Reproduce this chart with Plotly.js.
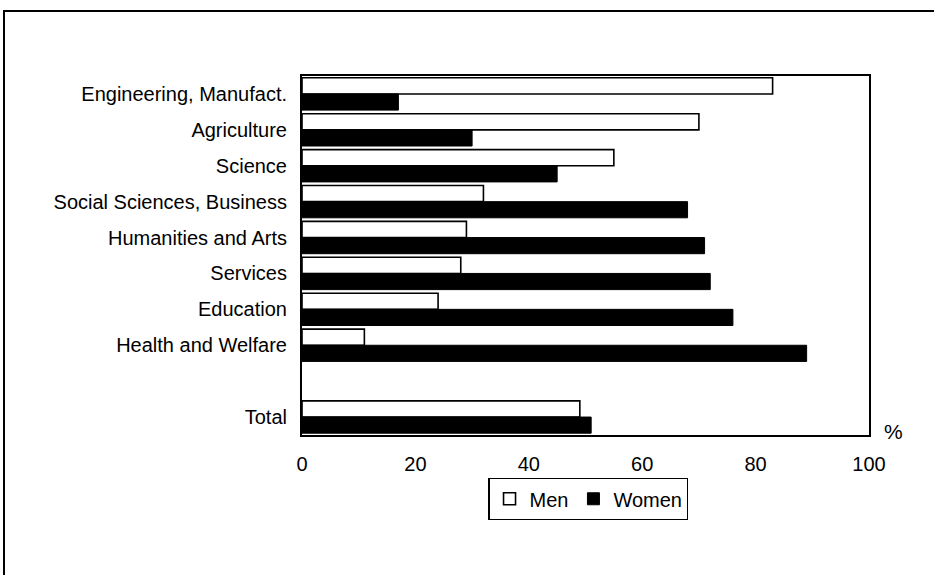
<!DOCTYPE html>
<html>
<head>
<meta charset="utf-8">
<script src="https://cdn.plot.ly/plotly-3.0.1.min.js"></script>
<style>
  html, body { margin: 0; padding: 0; background: #fff; }
  #wrap { position: relative; width: 934px; height: 575px; overflow: hidden; }
  #frame { position: absolute; left: 3px; top: 10px; width: 940px; height: 600px;
           border-left: 2px solid #000; border-top: 2px solid #000; box-sizing: border-box; pointer-events: none; }
  #chart { position: absolute; left: 0; top: 0; width: 934px; height: 575px; }
</style>
</head>
<body>
<div id="wrap">
  <div id="chart"></div>
  <div id="frame"></div>
</div>
<script>
const categories = [
  "Engineering, Manufact.",
  "Agriculture",
  "Science",
  "Social Sciences, Business",
  "Humanities and Arts",
  "Services",
  "Education",
  "Health and Welfare",
  " ",
  "Total"
];
const menValues   = [83, 70, 55, 32, 29, 28, 24, 11, null, 49];
const womenValues = [17, 30, 45, 68, 71, 72, 76, 89, null, 51];
const xTicks = [0, 20, 40, 60, 80, 100];

const fam = "Liberation Sans, Arial, sans-serif";
const famNarrow = "Liberation Sans Narrow, Arial Narrow, Liberation Sans, sans-serif";

const traces = [
  {
    type: "bar", orientation: "h", name: "Men",
    y: categories, x: menValues,
    marker: { color: "#ffffff", line: { color: "#000", width: 1.6 } },
    hoverinfo: "x+y"
  },
  {
    type: "bar", orientation: "h", name: "Women",
    y: categories, x: womenValues,
    marker: { color: "#000000", line: { color: "#000", width: 1 } },
    hoverinfo: "x+y"
  }
];

const layout = {
  width: 934, height: 575,
  margin: { l: 302, r: 65, t: 76, b: 140 },
  paper_bgcolor: "#fff", plot_bgcolor: "#fff",
  font: { family: fam, size: 20, color: "#000" },
  barmode: "group",
  bargap: 0.1, bargroupgap: 0,
  showlegend: true,
  legend: {
    orientation: "h", x: 0.505, xanchor: "center", y: -0.12, yanchor: "top",
    bordercolor: "#000", borderwidth: 1.2, bgcolor: "#fff",
    font: { family: fam, size: 20, color: "#000" },
    itemwidth: 30, tracegroupgap: 0
  },
  xaxis: {
    range: [0, 100], tickvals: xTicks, ticktext: xTicks.map(String),
    showgrid: false, zeroline: false,
    showline: true, linecolor: "#000", linewidth: 2, mirror: true,
    ticks: "outside", ticklen: 10, tickcolor: "rgba(0,0,0,0)",
    tickfont: { family: famNarrow, size: 20, color: "#000" },
    fixedrange: true
  },
  yaxis: {
    type: "category", categoryorder: "array", categoryarray: categories,
    range: [categories.length - 0.5, -0.5],
    showgrid: false, zeroline: false,
    showline: true, linecolor: "#000", linewidth: 2, mirror: true,
    ticks: "outside", ticklen: 9, tickcolor: "rgba(0,0,0,0)",
    tickfont: { family: fam, size: 20, color: "#000" },
    fixedrange: true
  },
  annotations: [
    { xref: "paper", yref: "paper", x: 1, y: 0, xanchor: "center", yanchor: "middle",
      xshift: 24, yshift: 4, text: "%", showarrow: false,
      font: { family: famNarrow, size: 21, color: "#000" } }
  ]
};

Plotly.newPlot("chart", traces, layout, { displayModeBar: false, staticPlot: true });
</script>
</body>
</html>
